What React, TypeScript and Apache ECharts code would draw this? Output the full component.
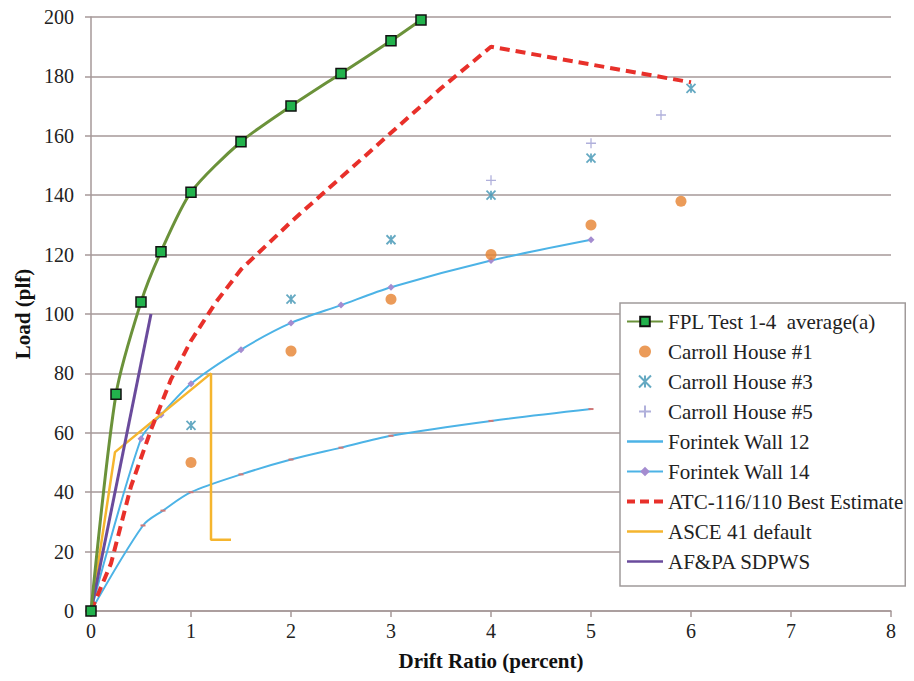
import React, { useEffect, useRef } from "react";
import * as echarts from "echarts";

const fplData: [number, number][] = [
  [0, 0], [0.25, 73], [0.5, 104], [0.7, 121], [1, 141], [1.5, 158],
  [2, 170], [2.5, 181], [3, 192], [3.3, 199],
];
const carroll1Data: [number, number][] = [
  [0, 0], [1, 50], [2, 87.5], [3, 105], [4, 120], [5, 130], [5.9, 138],
];
const carroll3Data: [number, number][] = [
  [0, 0], [1, 62.5], [2, 105], [3, 125], [4, 140], [5, 152.5], [6, 176],
];
const carroll5Data: [number, number][] = [
  [0, 0], [4, 145], [5, 157.5], [5.7, 167],
];
const forintek12Data: [number, number][] = [
  [0, 0], [0.52, 28.8], [0.72, 33.8], [1, 40], [1.5, 46], [2, 51],
  [2.5, 55], [3, 59], [4, 64], [5, 68],
];
const forintek14Data: [number, number][] = [
  [0, 0], [0.5, 58], [0.7, 66], [1, 76.5], [1.5, 88], [2, 97],
  [2.5, 103], [3, 109], [4, 118], [5, 125],
];
const atcData: [number, number][] = [
  [0, 0], [0.2, 16], [0.4, 42], [0.6, 61], [0.8, 78], [1, 91], [1.25, 104],
  [1.5, 115], [2, 131], [2.5, 146], [3, 161], [3.5, 176], [4, 190],
  [5, 184], [6, 178],
];
const asceData: [number, number][] = [
  [0, 0], [0.24, 53.5], [1.2, 80], [1.2, 24], [1.4, 24],
];
const afpaData: [number, number][] = [
  [0, 0], [0.6, 100],
];
const xTicks = { min: 0, max: 8, interval: 1 };
const yTicks = { min: 0, max: 200, interval: 20 };

const SERIF = "Liberation Serif, serif";
const GRID_COLOR = "#a69898";

const LINE_ICON = "path://M0,0L36,0L36,2.5L0,2.5Z";
const DASH_ICON = "path://M0,0h8v4h-8zM13,0h9v4h-9zM27,0h9v4h-9z";

export default function App() {
  const ref = useRef<HTMLDivElement>(null);
  useEffect(() => {
    if (!ref.current) return;
    const chart = echarts.init(ref.current, undefined, { renderer: "svg" });
    chart.setOption({
      animation: false,
      backgroundColor: "#ffffff",
      textStyle: { fontFamily: SERIF },
      grid: { left: 91, right: 23, top: 17, bottom: 70 },
      xAxis: {
        type: "value",
        min: xTicks.min,
        max: xTicks.max,
        interval: xTicks.interval,
        name: "Drift Ratio (percent)",
        nameLocation: "middle",
        nameGap: 39,
        nameTextStyle: { fontFamily: SERIF, fontWeight: "bold", fontSize: 21, color: "#111" },
        axisLine: { show: true, lineStyle: { color: GRID_COLOR, width: 1.5 } },
        axisTick: { show: true, length: 6, lineStyle: { color: GRID_COLOR, width: 1.5 } },
        axisLabel: { fontFamily: SERIF, fontSize: 20, color: "#222", margin: 10 },
        splitLine: { show: false },
      },
      yAxis: {
        type: "value",
        min: yTicks.min,
        max: yTicks.max,
        interval: yTicks.interval,
        name: "Load (plf)",
        nameLocation: "middle",
        nameGap: 58,
        nameRotate: 90,
        nameTextStyle: { fontFamily: SERIF, fontWeight: "bold", fontSize: 21, color: "#111" },
        axisLine: { show: true, lineStyle: { color: GRID_COLOR, width: 1.5 } },
        axisTick: { show: true, length: 6, lineStyle: { color: GRID_COLOR, width: 1.5 } },
        axisLabel: { fontFamily: SERIF, fontSize: 20, color: "#222", margin: 17 },
        splitLine: { show: true, lineStyle: { color: GRID_COLOR, width: 1.5 } },
      },
      legend: {
        orient: "vertical",
        left: 620,
        top: 303,
        padding: [8, 2, 14, 6],
        itemGap: 9,
        itemWidth: 36,
        itemHeight: 12,
        backgroundColor: "#ffffff",
        borderColor: "#a09a9a",
        borderWidth: 1.5,
        textStyle: { fontFamily: SERIF, fontSize: 21, color: "#222", lineHeight: 21 },
        data: [
          { name: "FPL Test 1-4  average(a)" },
          { name: "Carroll House #1" },
          { name: "Carroll House #3" },
          { name: "Carroll House #5" },
          { name: "Forintek Wall 12", icon: LINE_ICON, itemStyle: { color: "#4cb3e6" } },
          { name: "Forintek Wall 14" },
          { name: "ATC-116/110 Best Estimate", icon: DASH_ICON },
          { name: "ASCE 41 default", icon: LINE_ICON },
          { name: "AF&PA SDPWS", icon: LINE_ICON },
        ],
      },
      series: [
        {
          name: "Forintek Wall 12",
          type: "line",
          data: forintek12Data,
          smooth: 0.3,
          symbol: "rect",
          symbolSize: [5, 2],
          showSymbol: true,
          lineStyle: { color: "#4cb3e6", width: 2 },
          itemStyle: { color: "#d07878" },
          z: 2,
        },
        {
          name: "Forintek Wall 14",
          type: "line",
          data: forintek14Data,
          smooth: 0.3,
          symbol: "diamond",
          symbolSize: 7,
          lineStyle: { color: "#4cb3e6", width: 2 },
          itemStyle: { color: "#a48cd0" },
          z: 2,
        },
        {
          name: "ASCE 41 default",
          type: "line",
          data: asceData,
          symbol: "none",
          lineStyle: { color: "#f5b52e", width: 2.5 },
          itemStyle: { color: "#f5b52e" },
          z: 3,
        },
        {
          name: "AF&PA SDPWS",
          type: "line",
          data: afpaData,
          symbol: "none",
          lineStyle: { color: "#6a4b9c", width: 3 },
          itemStyle: { color: "#6a4b9c" },
          z: 3,
        },
        {
          name: "ATC-116/110 Best Estimate",
          type: "line",
          data: atcData,
          symbol: "none",
          lineStyle: { color: "#e8302a", width: 4, type: [10, 6] },
          itemStyle: { color: "#e8302a" },
          z: 4,
        },
        {
          name: "Carroll House #1",
          type: "scatter",
          data: carroll1Data,
          symbol: "circle",
          symbolSize: 11,
          itemStyle: { color: "#e6822f" },
          z: 5,
        },
        {
          name: "Carroll House #3",
          type: "scatter",
          data: carroll3Data,
          symbol: "path://M0,0L10,10M10,0L0,10M5,0L5,10",
          symbolSize: 9,
          itemStyle: { color: "#3f93b3", borderColor: "#3f93b3", borderWidth: 1.8 },
          z: 5,
        },
        {
          name: "Carroll House #5",
          type: "scatter",
          data: carroll5Data,
          symbol: "path://M5,0L5,10M0,5L10,5",
          symbolSize: 10,
          itemStyle: { color: "#9c9cd2", borderColor: "#9c9cd2", borderWidth: 1.3 },
          z: 5,
        },
        {
          name: "FPL Test 1-4  average(a)",
          type: "line",
          data: fplData,
          smooth: 0.25,
          symbol: "rect",
          symbolSize: 10,
          lineStyle: { color: "#6b923a", width: 3 },
          itemStyle: { color: "#22b24c", borderColor: "#111111", borderWidth: 1.5 },
          z: 6,
        },
      ],
    });
    return () => chart.dispose();
  }, []);
  return <div ref={ref} style={{ width: 914, height: 681, position: "absolute", left: 0, top: 0 }} />;
}
